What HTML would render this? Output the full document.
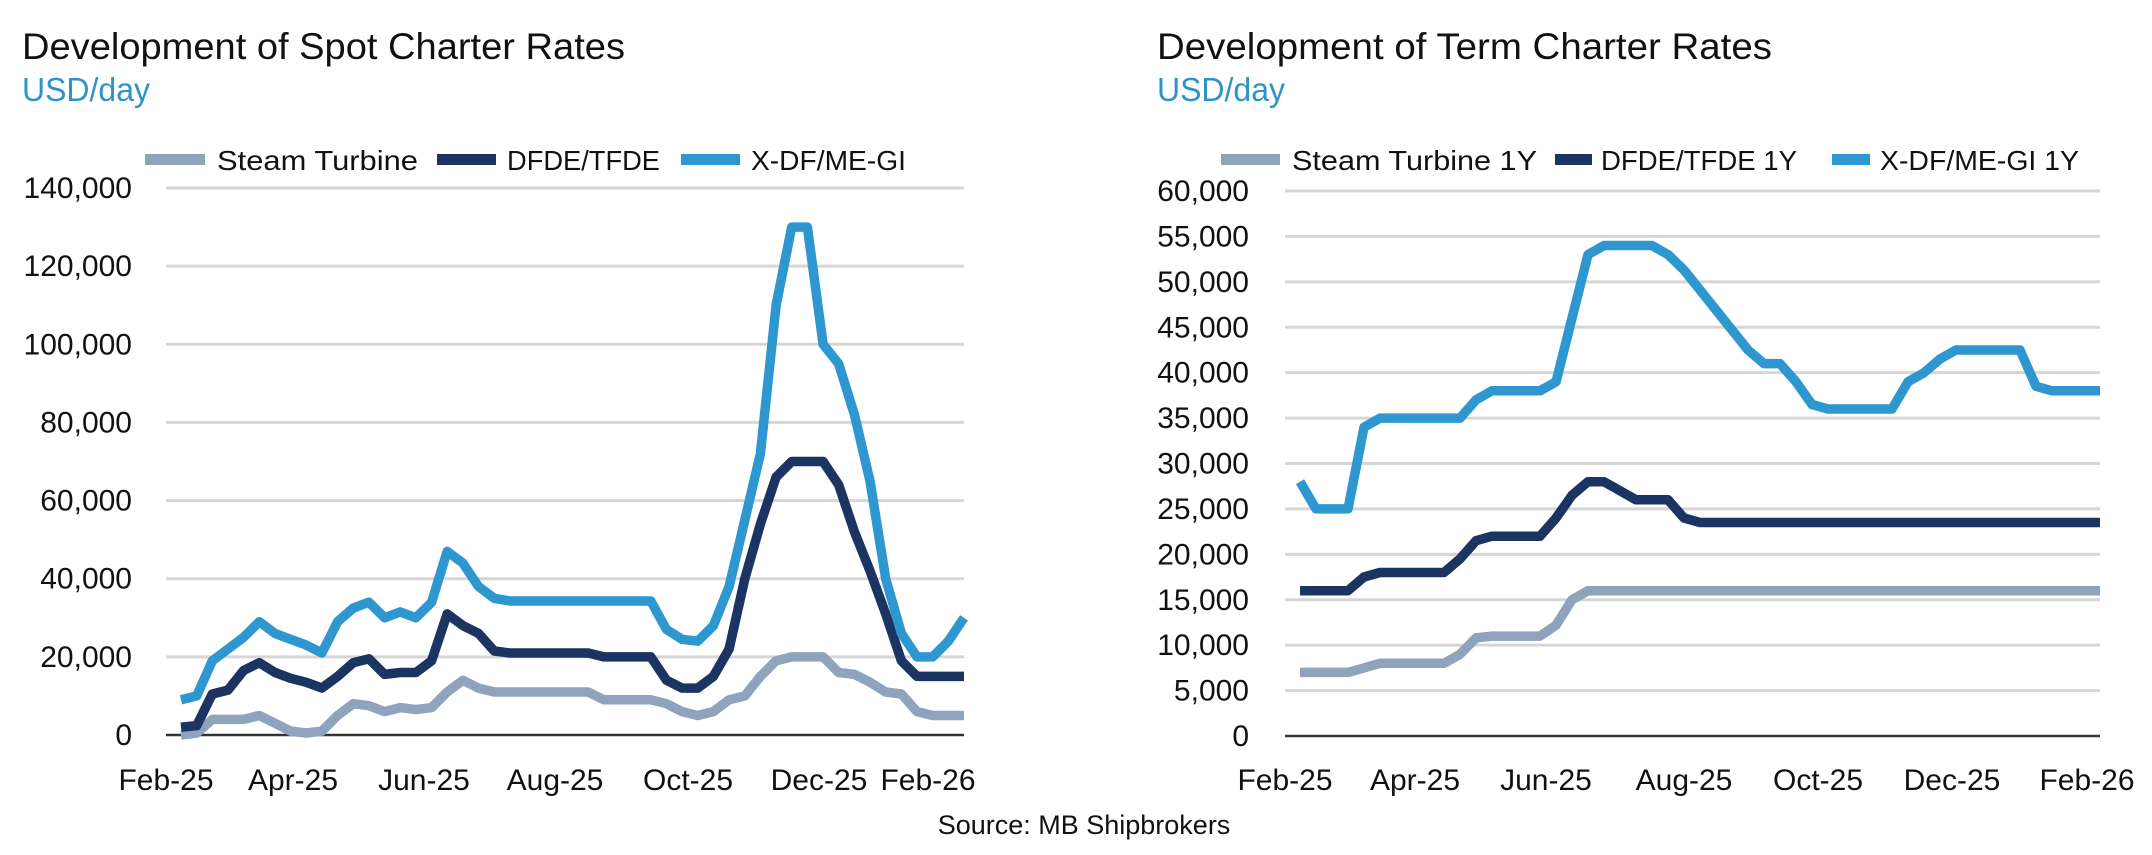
<!DOCTYPE html>
<html><head><meta charset="utf-8">
<style>
html,body{margin:0;padding:0;background:#fff;width:2152px;height:855px;overflow:hidden}
svg{display:block;font-family:"Liberation Sans",sans-serif}
</style></head>
<body>
<svg id="chart" width="2152" height="855" viewBox="0 0 2152 855" xmlns="http://www.w3.org/2000/svg">
  <text x="22" y="59" font-size="37" fill="#111" textLength="603" lengthAdjust="spacingAndGlyphs">Development of Spot Charter Rates</text>
  <text x="22" y="101" font-size="33" fill="#2e93c8" textLength="128" lengthAdjust="spacingAndGlyphs">USD/day</text>
  <text x="1157" y="59" font-size="37" fill="#111" textLength="615" lengthAdjust="spacingAndGlyphs">Development of Term Charter Rates</text>
  <text x="1157" y="101" font-size="33" fill="#2e93c8" textLength="128" lengthAdjust="spacingAndGlyphs">USD/day</text>
  <text x="1084" y="834" font-size="27" fill="#111" text-anchor="middle">Source: MB Shipbrokers</text>
  <g id="left"></g>
  <g id="right"></g>
</svg>
<script>
// ---- Spot chart data (USD/day, in thousands), weekly points ----
const monthLabels = ["Feb-25","Apr-25","Jun-25","Aug-25","Oct-25","Dec-25","Feb-26"];
const spotTicks = [0,20000,40000,60000,80000,100000,120000,140000];
const spotSteam = [0,0.5,4,4,4,5,3,1,0.5,1,5,8,7.5,6,7,6.5,7,11,14,12,11,11,11,11,11,11,11,9,9,9,9,8,6,5,6,9,10,15,19,20,20,20,16,15.5,13.5,11,10.5,6,5,5,5];
const spotDfde = [2,2.4,10.5,11.5,16.5,18.5,16,14.5,13.5,12,15,18.5,19.5,15.5,16,16,19,31,28,26,21.5,21,21,21,21,21,21,20,20,20,20,14,12,12,15,22,40,54,66,70,70,70,64,52,42,31,19,15,15,15,15];
const spotXdf = [9,10,19,22,25,29,26,24.5,23,21,29,32.5,34,30,31.5,30,34,47,44,38,35,34.3,34.3,34.3,34.3,34.3,34.3,34.3,34.3,34.3,34.3,27,24.5,24,28,38,55,72,110,130,130,100,95,82,65,40,26,20,20,24,30];
// ---- Term chart data (USD/day, in thousands) ----
const termTicks = [0,5000,10000,15000,20000,25000,30000,35000,40000,45000,50000,55000,60000];
const termSteam = [7,7,7,7,7.5,8,8,8,8,8,9,10.8,11,11,11,11,12.2,15,16,16,16,16,16,16,16,16,16,16,16,16,16,16,16,16,16,16,16,16,16,16,16,16,16,16,16,16,16,16,16,16,16];
const termDfde = [16,16,16,16,17.5,18,18,18,18,18,19.5,21.5,22,22,22,22,24,26.5,28,28,27,26,26,26,24,23.5,23.5,23.5,23.5,23.5,23.5,23.5,23.5,23.5,23.5,23.5,23.5,23.5,23.5,23.5,23.5,23.5,23.5,23.5,23.5,23.5,23.5,23.5,23.5,23.5,23.5];
const termXdf = [28,25,25,25,34,35,35,35,35,35,35,37,38,38,38,38,39,46,53,54,54,54,54,53,51.3,49.1,46.9,44.7,42.5,41,41,39,36.5,36,36,36,36,36,39,40,41.5,42.5,42.5,42.5,42.5,42.5,38.5,38,38,38,38];

const NS="http://www.w3.org/2000/svg";
const C={steam:"#8fa3bd",dfde:"#1c3461",xdf:"#2f97cf"};
function mk(tag,attrs,parent){const e=document.createElementNS(NS,tag);for(const k in attrs)e.setAttribute(k,attrs[k]);parent.appendChild(e);return e;}

function drawChart(g,cfg){
  const yS=v=>cfg.y0-(v/cfg.max)*(cfg.y0-cfg.yTop);
  const n=cfg.series[0].vals.length;
  const xS=i=>cfg.dx0+(cfg.dx1-cfg.dx0)*i/(n-1);
  cfg.ticks.forEach((t,k)=>{
    const y=yS(t);
    if(t!==0){
      const gl=mk("line",{x1:cfg.gx0,x2:cfg.gx1,y1:y,y2:y,stroke:"#d6d6d6","stroke-width":3},g);
      
      
    }
    const tl=mk("text",{x:cfg.labX,y:y+10,"font-size":30,"text-anchor":"end",fill:"#111"},g);
    
    
    tl.textContent=t.toLocaleString("en-US");
  });
  const ax=mk("line",{x1:cfg.gx0,x2:cfg.gx1,y1:cfg.y0,y2:cfg.y0,stroke:"#333","stroke-width":2.5},g);
  
  
  monthLabels.forEach((m,k)=>{
    const t=mk("text",{x:cfg.mx[k],y:790,"font-size":30,"text-anchor":"middle",fill:"#111"},g);
    
    
    t.textContent=m;
  });
  cfg.series.forEach(s=>{
    const d=s.vals.map((v,i)=>(i?"L":"M")+xS(i).toFixed(1)+","+yS(v*1000).toFixed(1)).join(" ");
    const p=mk("path",{d:d,fill:"none",stroke:s.color,"stroke-width":9.5,"stroke-linejoin":"round"},g);
    
    
  });
  cfg.legend.forEach(l=>{
    const sw=mk("rect",{x:l.sx,y:154,width:l.sw,height:11,fill:l.color},g);
    
    
    const t=mk("text",{x:l.tx,y:170,"font-size":28,fill:"#111",textLength:l.tw,lengthAdjust:"spacingAndGlyphs"},g);
    
    
    t.textContent=l.label;
  });
}

drawChart(document.getElementById("left"),{
  y0:735,yTop:188,max:140000,ticks:spotTicks,gx0:166,gx1:964,labX:132,dx0:181,dx1:964,
  mx:[166,293,424,555,688,819,928],
  series:[{name:"steam-turbine-line",vals:spotSteam,color:C.steam},{name:"dfde-tfde-line",vals:spotDfde,color:C.dfde},{name:"xdf-megi-line",vals:spotXdf,color:C.xdf}],
  legend:[{sx:145,sw:60,tx:217,tw:201,label:"Steam Turbine",color:C.steam},{sx:437,sw:59,tx:507,tw:153,label:"DFDE/TFDE",color:C.dfde},{sx:681,sw:59,tx:751,tw:155,label:"X-DF/ME-GI",color:C.xdf}]
});
drawChart(document.getElementById("right"),{
  y0:736,yTop:191,max:60000,ticks:termTicks,gx0:1285,gx1:2100,labX:1249,dx0:1300,dx1:2100,
  mx:[1285,1415,1546,1684,1818,1952,2087],
  series:[{name:"steam-turbine-1y-line",vals:termSteam,color:C.steam},{name:"dfde-tfde-1y-line",vals:termDfde,color:C.dfde},{name:"xdf-megi-1y-line",vals:termXdf,color:C.xdf}],
  legend:[{sx:1221,sw:59,tx:1292,tw:245,label:"Steam Turbine 1Y",color:C.steam},{sx:1555,sw:37,tx:1601,tw:196,label:"DFDE/TFDE 1Y",color:C.dfde},{sx:1832,sw:38,tx:1880,tw:199,label:"X-DF/ME-GI 1Y",color:C.xdf}]
});
</script>
</body></html>
